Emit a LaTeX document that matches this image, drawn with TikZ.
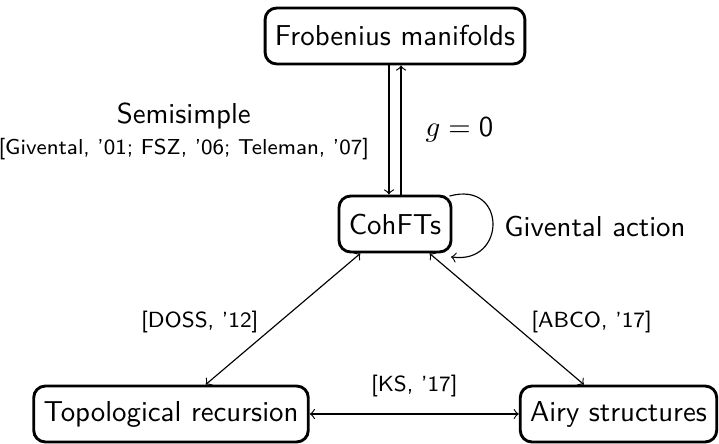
\documentclass[tikz,border=0pt]{standalone}
\usepackage{fontspec}
\usetikzlibrary{arrows}
\begin{document}
\begin{tikzpicture}[x=0.347pt,y=-0.347pt,
  every node/.style={font=\sffamily},
  box/.style={draw,line width=1pt,rounded corners=4pt,minimum height=19.4pt,inner xsep=3.4pt},
  conn/.style={line width=0.4pt,->},
  bconn/.style={line width=0.4pt,<->},
  cite/.style={font=\sffamily\fontsize{7.6}{9.5}\selectfont}]
\useasboundingbox (0,0) rectangle (719,444);
\node[box] (frob) at (395,36) {Frobenius manifolds};
\node[box] (coh) at (395,224) {CohFTs};
\node[box] (top) at (171,414) {Topological recursion};
\node[box] (airy) at (618.5,414) {Airy structures};
\draw[conn] ([xshift=-2.1pt]frob.south) -- node[midway,left=3.4pt,align=center,yshift=-0.5pt]{Semisimple\\[-1pt]{\fontsize{7.5}{9.5}\selectfont [Givental, '01; FSZ, '06; Teleman, '07]}} ([xshift=-2.1pt]coh.north);
\draw[conn] ([xshift=2.1pt]coh.north) -- node[midway,right=5pt]{$g=\mathsf{0}$} ([xshift=2.1pt]frob.south);
\draw[conn] ([xshift=-1pt,yshift=-0.5pt]coh.north east) .. controls (507,180) and (507,265) .. ([xshift=-0.5pt,yshift=-1.2pt]coh.south east);
\node (giv) at (595,226) {Givental action};
\draw[bconn] (coh) -- node[midway,cite,anchor=east,xshift=-5pt,yshift=-1pt]{[DOSS, '12]} (top);
\draw[bconn] (coh) -- node[midway,cite,anchor=west,xshift=5pt,yshift=-1pt]{[ABCO, '17]} (airy);
\draw[bconn] (top) -- node[midway,cite,above=2.5pt]{[KS, '17]} (airy);
\end{tikzpicture}
\end{document}
